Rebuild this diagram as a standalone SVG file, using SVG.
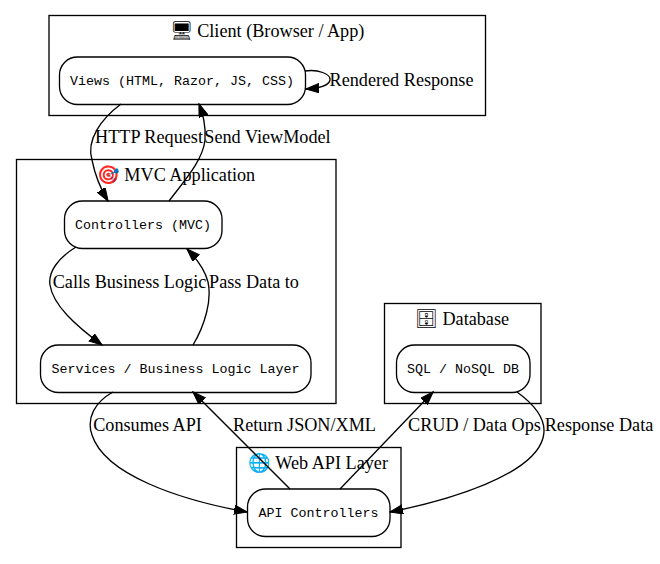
<svg xmlns="http://www.w3.org/2000/svg" width="660" height="564" viewBox="0 0 660 564">
<style>
.cl{fill:none;stroke:#000;stroke-width:1.33}
.nd{fill:#fff;stroke:#000;stroke-width:1.33}
.t{font-family:"Liberation Serif","Times New Roman",serif;font-size:18.2px;fill:#000;text-anchor:middle}
.m{font-family:"Liberation Mono","Courier New",monospace;font-size:13.33px;fill:#000;text-anchor:middle}
.e{fill:none;stroke:#000;stroke-width:1.33;marker-end:url(#ah)}
</style>
<defs>
<marker id="ah" markerUnits="userSpaceOnUse" markerWidth="14" markerHeight="10" refX="13" refY="4.67" orient="auto">
<path d="M0,0 L13.3,4.67 L0,9.33 Z" fill="#000" stroke="#000" stroke-width="1"/>
</marker>
</defs>
<rect width="660" height="564" fill="#fff"/>
<g id="cluster_client">
<rect class="cl" x="49" y="15.5" width="436.5" height="100"/>
<text class="t" x="267" y="36.5">🖥 Client (Browser / App)</text>
</g>
<g id="cluster_mvc">
<rect class="cl" x="16.5" y="159.5" width="319.5" height="244"/>
<text class="t" x="176" y="180.5">🎯 MVC Application</text>
</g>
<g id="cluster_db">
<rect class="cl" x="384.5" y="303.5" width="156.5" height="100"/>
<text class="t" x="462" y="324.5">🗄 Database</text>
</g>
<g id="cluster_webapi">
<rect class="cl" x="236.5" y="447.5" width="164.5" height="100"/>
<text class="t" x="318" y="468.5">🌐 Web API Layer</text>
</g>
<g id="views">
<rect class="nd" x="59.5" y="57" width="246" height="47.5" rx="18"/>
<text class="m" x="182" y="85">Views (HTML, Razor, JS, CSS)</text>
</g>
<g id="controllers">
<rect class="nd" x="64.5" y="201" width="157.5" height="47.5" rx="18"/>
<text class="m" x="143" y="229">Controllers (MVC)</text>
</g>
<g id="services">
<rect class="nd" x="40.5" y="345" width="270.5" height="47.5" rx="18"/>
<text class="m" x="175.5" y="373">Services / Business Logic Layer</text>
</g>
<g id="db">
<rect class="nd" x="396.5" y="345" width="133.5" height="47.5" rx="18"/>
<text class="m" x="463" y="373">SQL / NoSQL DB</text>
</g>
<g id="apictrl">
<rect class="nd" x="247.5" y="489" width="142.5" height="47.5" rx="18"/>
<text class="m" x="318.5" y="517">API Controllers</text>
</g>
<g id="edges">
<path class="e" d="M305,71 C318,69 331,74 330,80 C329,85 322,88 306,89"/>
<text class="t" x="401.5" y="86">Rendered Response</text>
<path class="e" d="M121,104 C101,119 86,140 92,160 C95,175 100,188 108,201"/>
<text class="t" x="149" y="143">HTTP Request</text>
<path class="e" d="M169,201 C185,180 203,160 205,140 C206,125 203,115 199,104"/>
<text class="t" x="267.5" y="143">Send ViewModel</text>
<path class="e" d="M76,247 C58,258 48,272 50,285 C53,305 75,325 102,345"/>
<text class="t" x="129.5" y="288">Calls Business Logic</text>
<path class="e" d="M193,345 C205,325 212,300 208,282 C205,270 196,258 187,249"/>
<text class="t" x="254" y="288">Pass Data to</text>
<path class="e" d="M113,392 C95,402 86,418 92,435 C105,475 180,500 247,512"/>
<text class="t" x="147.5" y="431">Consumes API</text>
<path class="e" d="M290,489 L193,392"/>
<text class="t" x="304.5" y="431">Return JSON/XML</text>
<path class="e" d="M340,489 L433,392"/>
<text class="t" x="474.5" y="431">CRUD / Data Ops</text>
<path class="e" d="M517,392 C535,405 548,420 543,438 C533,475 450,500 390,512"/>
<text class="t" x="599" y="431">Response Data</text>
</g>
</svg>
